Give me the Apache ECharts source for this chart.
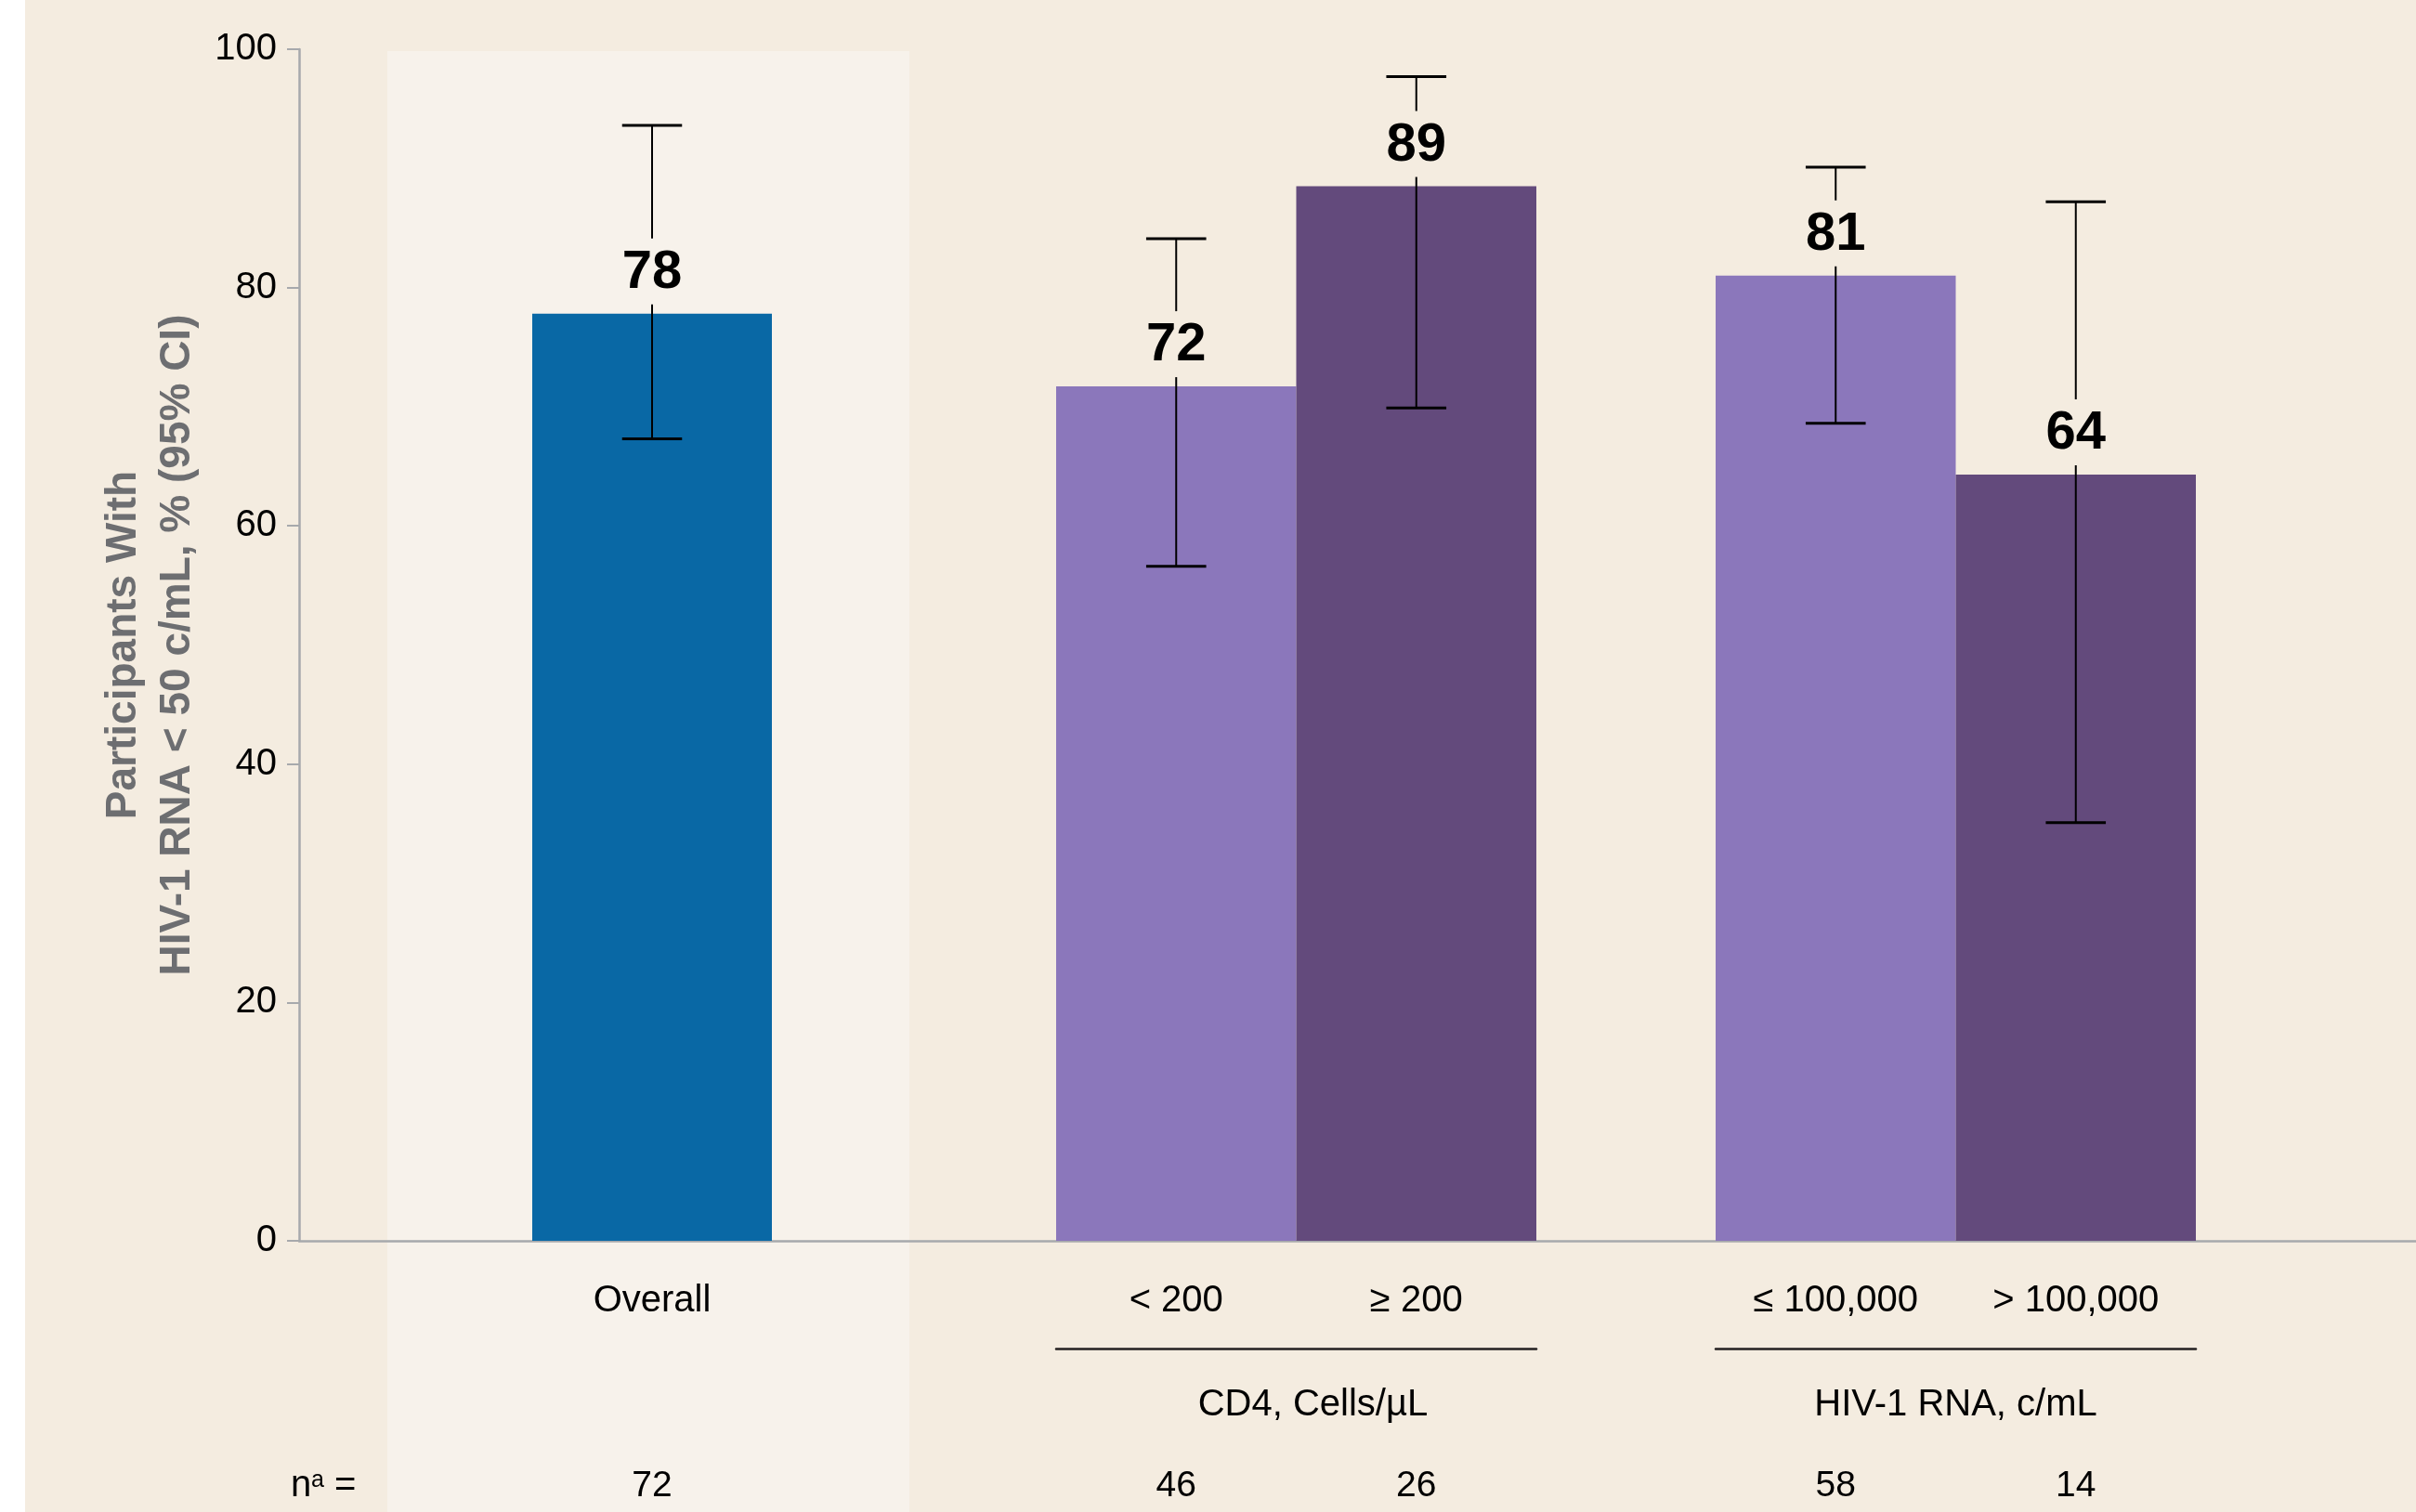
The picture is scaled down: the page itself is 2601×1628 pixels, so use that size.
<!DOCTYPE html>
<html>
<head>
<meta charset="utf-8">
<title>Participants With HIV-1 RNA &lt; 50 c/mL</title>
<script src="https://cdn.jsdelivr.net/npm/echarts@6/dist/echarts.min.js"></script>
<style>
  html, body { margin: 0; padding: 0; background: #ffffff; }
  #chart { width: 2601px; height: 1628px; }
</style>
</head>
<body>
<div id="chart"></div>
<script>
// ---- data ----
const categories = ['Overall', '< 200', '\u2265 200', '\u2264 100,000', '> 100,000'];
const responseRate = [77.8, 71.7, 88.5, 81.0, 64.3];   // % with HIV-1 RNA < 50 c/mL
const ciLower = [67.3, 56.6, 69.9, 68.6, 35.1];        // 95% CI lower bound
const ciUpper = [93.6, 84.1, 97.7, 90.1, 87.2];        // 95% CI upper bound
const participants = [72, 46, 26, 58, 14];              // n per subgroup
const groupTitles = ['', 'CD4, Cells/\u00b5L', 'HIV-1 RNA, c/mL'];
const groupMembers = [[0], [1, 2], [3, 4]];
const yTickValues = [0, 20, 40, 60, 80, 100];

// ---- styles & layout ----
const FONT = '"Liberation Sans", Arial, Helvetica, sans-serif';
const BG = '#f4ece0';
const barColors = ['#0968a5', '#8b77bb', '#634a7c', '#8b77bb', '#634a7c'];
const AXIS_GREY = '#a7a9ac';
const PLOT_TOP = 53;
const PLOT_BOTTOM = 292;
const groupGrids = [
  { left: 573, width: 258, titleShift: 0 },
  { left: 1137, width: 517, titleShift: 18 },
  { left: 1847, width: 517, titleShift: 0 }
];

const yMin = yTickValues[0];
const yMax = yTickValues[yTickValues.length - 1];
const yStep = yTickValues[1] - yTickValues[0];

// Error bar with value label; the upper whisker is interrupted around the label.
function renderErrorBar(params, api) {
  const cat = api.value(0);
  const val = api.value(1);
  const lo = api.value(2);
  const hi = api.value(3);
  const barTop = api.coord([cat, val]);
  const pLo = api.coord([cat, lo]);
  const pHi = api.coord([cat, hi]);
  const band = api.size([1, 0])[0];
  const x = barTop[0];
  const capHalf = band * 0.125;
  const labelY = barTop[1] - 44;
  const gapTop = labelY - 37;
  const gapBottom = labelY + 34;
  const stem = { stroke: '#000', lineWidth: 2 };
  const cap = { stroke: '#000', lineWidth: 3 };
  const children = [
    { type: 'line', shape: { x1: x - capHalf, y1: pHi[1], x2: x + capHalf, y2: pHi[1] }, style: cap },
    { type: 'line', shape: { x1: x - capHalf, y1: pLo[1], x2: x + capHalf, y2: pLo[1] }, style: cap }
  ];
  if (gapTop > pHi[1]) {
    children.push({ type: 'line', shape: { x1: x, y1: pHi[1], x2: x, y2: gapTop }, style: stem });
  }
  if (pLo[1] > gapBottom) {
    children.push({ type: 'line', shape: { x1: x, y1: gapBottom, x2: x, y2: pLo[1] }, style: stem });
  }
  children.push({
    type: 'text',
    style: {
      x: x, y: labelY,
      text: String(Math.round(val)),
      align: 'center', verticalAlign: 'middle',
      font: 'bold 58px ' + FONT,
      fill: '#000'
    }
  });
  return { type: 'group', children: children };
}

const grid = [{ left: 322, right: 0, top: PLOT_TOP, bottom: PLOT_BOTTOM }];
const xAxis = [{
  gridIndex: 0, type: 'category', data: [''], position: 'bottom',
  axisLine: { show: true, onZero: false, lineStyle: { color: AXIS_GREY, width: 2.5 } },
  axisTick: { show: false }, axisLabel: { show: false }, splitLine: { show: false }
}];
const yAxis = [{
  gridIndex: 0, type: 'value', min: yMin, max: yMax, interval: yStep,
  axisLine: { show: true, lineStyle: { color: AXIS_GREY, width: 2.5 } },
  axisTick: { show: true, length: 13, lineStyle: { color: AXIS_GREY, width: 2 } },
  axisLabel: { fontSize: 40, color: '#000', margin: 24, fontFamily: FONT },
  splitLine: { show: false },
  name: 'Participants With\nHIV-1 RNA < 50 c/mL, % (95% CI)',
  nameLocation: 'middle', nameRotate: 90, nameGap: 156,
  nameTextStyle: {
    fontSize: 46, fontWeight: 'bold', color: '#6d6e71', lineHeight: 58,
    verticalAlign: 'middle', align: 'center', fontFamily: FONT
  }
}];
const series = [];

groupMembers.forEach(function (members, g) {
  const gi = g + 1;
  grid.push({ left: groupGrids[g].left, width: groupGrids[g].width, top: PLOT_TOP, bottom: PLOT_BOTTOM });
  yAxis.push({ gridIndex: gi, type: 'value', min: yMin, max: yMax, interval: yStep, show: false });
  const yIdx = yAxis.length - 1;

  // subgroup names under the bars
  xAxis.push({
    gridIndex: gi, type: 'category', position: 'bottom',
    data: members.map(function (i) { return categories[i]; }),
    axisLine: { show: false, onZero: false }, axisTick: { show: false },
    axisLabel: { margin: 65, fontSize: 40, color: '#000', verticalAlign: 'middle', fontFamily: FONT, interval: 0 }
  });
  const xIdx = xAxis.length - 1;

  // participant counts row
  xAxis.push({
    gridIndex: gi, type: 'category', position: 'bottom',
    data: members.map(function (i) { return String(participants[i]); }),
    axisLine: { show: false, onZero: false }, axisTick: { show: false },
    axisLabel: { margin: 264, fontSize: 39, color: '#000', verticalAlign: 'middle', fontFamily: FONT, interval: 0 }
  });

  // bracket line and title of a subgroup family
  if (groupTitles[g]) {
    const shift = groupGrids[g].titleShift;
    xAxis.push({
      gridIndex: gi, type: 'category', position: 'bottom', offset: 116,
      data: members.map(function () { return ''; }),
      axisLine: { show: true, onZero: false, lineStyle: { color: '#231f20', width: 2.5 } },
      axisTick: { show: false }, axisLabel: { show: false },
      name: groupTitles[g], nameLocation: 'middle', nameGap: 61,
      nameTextStyle: {
        fontSize: 40, color: '#000', verticalAlign: 'middle', fontFamily: FONT,
        padding: [0, 0, 0, shift * 2]
      }
    });
  }

  series.push({
    type: 'bar', xAxisIndex: xIdx, yAxisIndex: yIdx,
    barWidth: '100%', barCategoryGap: 0, silent: true,
    data: members.map(function (i) {
      return { value: responseRate[i], itemStyle: { color: barColors[i] } };
    }),
    z: 2
  });
  series.push({
    type: 'custom', xAxisIndex: xIdx, yAxisIndex: yIdx, silent: true,
    renderItem: renderErrorBar,
    data: members.map(function (i, k) { return [k, responseRate[i], ciLower[i], ciUpper[i]]; }),
    z: 5
  });
});

const chart = echarts.init(document.getElementById('chart'), null, { renderer: 'canvas' });
chart.setOption({
  backgroundColor: BG,
  animation: false,
  textStyle: { fontFamily: FONT },
  grid: grid,
  xAxis: xAxis,
  yAxis: yAxis,
  series: series,
  graphic: [
    { type: 'rect', z: -10, silent: true, shape: { x: 0, y: 0, width: 27, height: 1628 }, style: { fill: '#ffffff' } },
    { type: 'rect', z: -10, silent: true, shape: { x: 417, y: 55, width: 562, height: 1573 }, style: { fill: '#f7f2eb' } },
    { type: 'text', silent: true, style: { x: 313, y: 1600, text: 'n', font: '40px ' + FONT, fill: '#000', verticalAlign: 'middle' } },
    { type: 'text', silent: true, style: { x: 335, y: 1594, text: 'a', font: '25px ' + FONT, fill: '#000', verticalAlign: 'middle' } },
    { type: 'text', silent: true, style: { x: 360, y: 1600, text: '=', font: '40px ' + FONT, fill: '#000', verticalAlign: 'middle' } }
  ]
});
</script>
</body>
</html>
